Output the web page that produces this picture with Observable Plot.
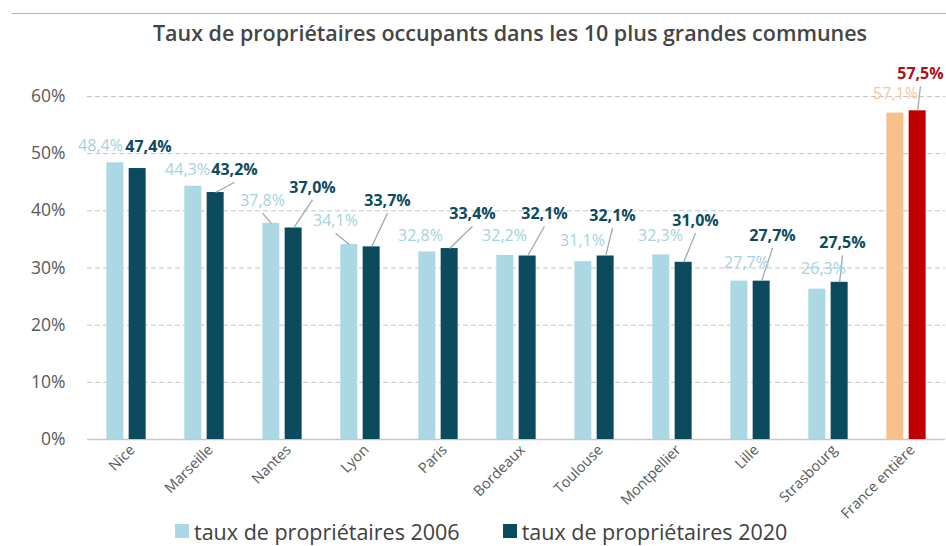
<!DOCTYPE html>
<html>
<head>
<meta charset="utf-8">
<script src="https://cdn.jsdelivr.net/npm/d3@7"></script>
<script src="https://cdn.jsdelivr.net/npm/@observablehq/plot@0.6"></script>
<style>
  body { margin: 0; background: #fff; font-family: "Open Sans", sans-serif; }
  #wrap { width: 946px; height: 546px; position: relative; overflow: hidden; }
  #topline { position: absolute; top: 13px; left: 12px; right: 0; border-top: 1.5px solid #b4b4b4; }
  #title { height: 58px; position: relative; }
  #title span { position: absolute; left: 0; right: 0; top: 20px; text-align: center; padding-left: 74px;
    font-size: 21.5px; font-weight: 600; color: #454545; line-height: 26px; }
  #legend { height: 30px; display: flex; align-items: center; padding-left: 175px; font-size: 21.5px; color: #404040; }
  .item { display: flex; align-items: center; }
  .sw { width: 14px; height: 14px; margin-right: 5px; }
</style>
</head>
<body>
<div id="wrap">
  <div id="topline"></div>
  <div id="title"><span>Taux de propriétaires occupants dans les 10 plus grandes communes</span></div>
  <div id="chart"></div>
  <div id="legend"></div>
</div>
<script>
// ---- data ----
const categories = ["Nice","Marseille","Nantes","Lyon","Paris","Bordeaux","Toulouse","Montpellier","Lille","Strasbourg","France entière"];
const taux2006 = [48.4, 44.3, 37.8, 34.1, 32.8, 32.2, 31.1, 32.3, 27.7, 26.3, 57.1];
const taux2020 = [47.4, 43.2, 37.0, 33.7, 33.4, 32.1, 32.1, 31.0, 27.7, 27.5, 57.5];
const seriesNames = ["taux de propriétaires 2006", "taux de propriétaires 2020"];
const yTicks = [0, 0.1, 0.2, 0.3, 0.4, 0.5, 0.6];

// ---- label layout (x in category units, y as fraction) ----
const labelX2006 = [-0.333, 0.782, 1.744, 2.679, 3.769, 4.846, 5.846, 6.846, 7.949, 8.936, 9.859];
const labelY2006 = [0.514, 0.472, 0.418, 0.383, 0.357, 0.357, 0.348, 0.357, 0.309, 0.299, 0.605];
const leader2006 = [false, false, true, true, false, false, false, false, false, false, false];
const labelX2020 = [0.282, 1.385, 2.385, 3.346, 4.436, 5.359, 6.231, 7.295, 8.282, 9.179, 10.179];
const labelY2020 = [0.512, 0.472, 0.441, 0.418, 0.395, 0.395, 0.392, 0.383, 0.357, 0.344, 0.640];
const leader2020 = [false, true, true, true, true, true, true, true, true, true, true];

// ---- styles ----
const barColor = {"2006": "#acd8e5", "2020": "#0c4b5e"};
const barColorFrance = {"2006": "#f8c08d", "2020": "#c00000"};
const labelColor = {"2006": "#a3d2e0", "2020": "#0c4b5e"};
const labelColorFrance = {"2006": "#f5c69d", "2020": "#b0101a"};
const offset = {"2006": -0.143, "2020": 0.143};
const halfW = 0.109;

const rows = [];
categories.forEach((c, i) => {
  const fr = i === categories.length - 1;
  [["2006", taux2006, labelX2006, labelY2006, leader2006], ["2020", taux2020, labelX2020, labelY2020, leader2020]]
    .forEach(([s, vals, lx, ly, ld]) => {
      rows.push({
        i, cat: c, s, v: vals[i] / 100, pos: i + offset[s],
        lx: lx[i], ly: ly[i], leader: ld[i],
        fill: fr ? barColorFrance[s] : barColor[s],
        lfill: fr ? labelColorFrance[s] : labelColor[s],
        text: vals[i].toFixed(1).replace(".", ",") + "%"
      });
    });
});

const chart = Plot.plot({
  width: 946, height: 458,
  marginLeft: 87, marginRight: 1, marginTop: 38, marginBottom: 77,
  x: {domain: [-0.5, 10.5], axis: null},
  y: {domain: [0, 0.6], axis: null},
  color: {type: "identity"},
  style: {fontFamily: "Open Sans", background: "white", overflow: "visible"},
  marks: [
    Plot.gridY(yTicks.filter(d => d > 0), {stroke: "#c4c4c4", strokeOpacity: 1, strokeDasharray: "5,3"}),
    Plot.ruleY([0], {stroke: "#c8c8c8", strokeWidth: 1.5}),
    Plot.axisY(yTicks, {tickSize: 0, tickPadding: 22, tickFormat: d => Math.round(d * 100) + "%", fontSize: 17.5, fill: "#595959"}),
    Plot.axisX(d3.range(categories.length), {tickSize: 0, tickPadding: 8, dx: 6, tickRotate: -45, tickFormat: i => categories[i], fontSize: 14.5, fill: "#595959"}),
    Plot.rectY(rows, {x1: d => d.pos - halfW, x2: d => d.pos + halfW, y1: 0, y2: "v", fill: "fill"}),
    Plot.link(rows.filter(d => d.leader), {x1: "lx", y1: d => d.ly - 0.022, x2: "pos", y2: "v", stroke: "#9aabb3", strokeWidth: 1.3}),
    Plot.text(rows.filter(d => d.s === "2006"), {x: "lx", y: "ly", text: "text", fill: "lfill", fontSize: 16}),
    Plot.text(rows.filter(d => d.s === "2020"), {x: "lx", y: "ly", text: "text", fill: "lfill", fontSize: 16, fontWeight: "bold"})
  ]
});
document.getElementById("chart").append(chart);

// legend
const legend = document.getElementById("legend");
[["2006", 0], ["2020", 43]].forEach(([s, gap], k) => {
  const it = document.createElement("div");
  it.className = "item";
  it.style.marginLeft = gap + "px";
  const sw = document.createElement("div");
  sw.className = "sw";
  sw.style.background = barColor[s];
  const t = document.createElement("span");
  t.textContent = seriesNames[k];
  it.append(sw, t);
  legend.append(it);
});
</script>
</body>
</html>
